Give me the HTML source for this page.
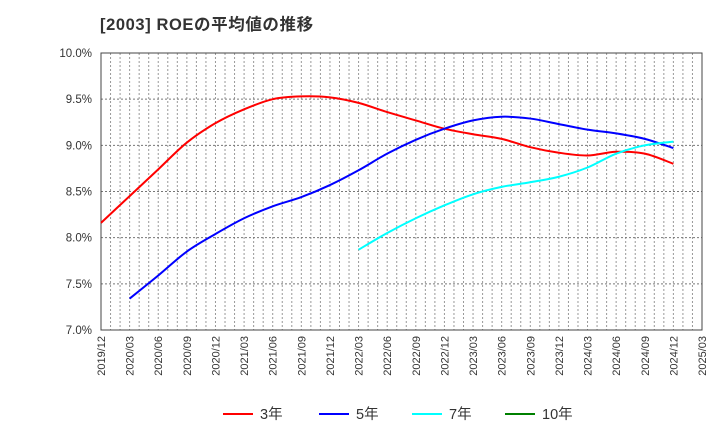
<!DOCTYPE html>
<html><head><meta charset="utf-8"><style>
body{margin:0;background:#fff;font-family:"Liberation Sans","Noto Sans CJK JP",sans-serif;}
svg text{font-family:"Liberation Sans","Noto Sans CJK JP",sans-serif;}
</style></head><body>
<svg id="c" width="720" height="440" xmlns="http://www.w3.org/2000/svg">
<text x="100" y="30" font-size="16.5" font-weight="bold" fill="#333" letter-spacing="0.6">[2003]  ROEの平均値の推移</text>
<g id="grid"></g><g id="axes"></g><g id="series"></g><g id="legend"></g>
</svg>
<script>
const xLabels=["2019/12","2020/03","2020/06","2020/09","2020/12","2021/03","2021/06","2021/09","2021/12","2022/03","2022/06","2022/09","2022/12","2023/03","2023/06","2023/09","2023/12","2024/03","2024/06","2024/09","2024/12","2025/03"];
const yTicks=[7.0,7.5,8.0,8.5,9.0,9.5,10.0];
const red=[8.16,8.45,8.74,9.03,9.24,9.39,9.50,9.53,9.52,9.46,9.36,9.27,9.18,9.12,9.07,8.98,8.92,8.89,8.93,8.91,8.80];
const blue=[null,7.34,7.59,7.85,8.04,8.21,8.34,8.44,8.57,8.73,8.91,9.06,9.18,9.27,9.31,9.29,9.23,9.17,9.13,9.07,8.97];
const cyan=[null,null,null,null,null,null,null,null,null,7.87,8.05,8.21,8.35,8.47,8.55,8.60,8.66,8.76,8.91,9.00,9.04];
const seriesNames=["3年","5年","7年","10年"];
const seriesColors=["#ff0000","#0000ff","#00ffff","#008000"];
const L=101,R=702,T=53,B=330,NS="http://www.w3.org/2000/svg";
const X=i=>L+(R-L)*i/(xLabels.length-1);
const Y=v=>B-(v-7)/3*(B-T);
function mk(t,a,p){const e=document.createElementNS(NS,t);for(const k in a)e.setAttribute(k,a[k]);p.appendChild(e);return e;}
const g=document.getElementById('grid');
for(let m=1;m<(xLabels.length-1)*3;m++){const x=L+(R-L)*m/((xLabels.length-1)*3);
const l=mk('line',{x1:x,x2:x,y1:T,y2:B,stroke:'#999','stroke-dasharray':'2,2','stroke-width':1},g);

}
yTicks.forEach(v=>{const l=mk('line',{x1:L,x2:R,y1:Y(v),y2:Y(v),stroke:'#777','stroke-dasharray':'2,2','stroke-width':1},g);


const t=mk('text',{x:L-9,y:Y(v)+4,'text-anchor':'end','font-size':11.5,fill:'#333'},document.getElementById('axes'));t.textContent=v.toFixed(1)+'%';

});
const ax=document.getElementById('axes');
const fr=mk('rect',{x:L,y:T,width:R-L,height:B-T,fill:'none',stroke:'#444','stroke-width':1},ax);


xLabels.forEach((s,i)=>{const t=mk('text',{transform:`translate(${X(i)+4},${B+6}) rotate(-90)`,'text-anchor':'end','font-size':11,fill:'#333'},ax);t.textContent=s;

});
function path(arr){const p=[];arr.forEach((v,i)=>{if(v!=null)p.push([X(i),Y(v)]);});
let d=`M${p[0][0]},${p[0][1]}`;for(let i=0;i<p.length-1;i++){const p0=p[i-1]||p[i],p1=p[i],p2=p[i+1],p3=p[i+2]||p2;
d+=` C${p1[0]+(p2[0]-p0[0])/6},${p1[1]+(p2[1]-p0[1])/6} ${p2[0]-(p3[0]-p1[0])/6},${p2[1]-(p3[1]-p1[1])/6} ${p2[0]},${p2[1]}`;}return d;}
const sg=document.getElementById('series');
[[red,'series-3yr',0],[blue,'series-5yr',1],[cyan,'series-7yr',2]].forEach(([a,n,c])=>{const e=mk('path',{d:path(a),fill:'none',stroke:seriesColors[c],'stroke-width':2},sg);

});
const lg=document.getElementById('legend');const lx=[223,319,412,505];
seriesNames.forEach((s,i)=>{const e=mk('line',{x1:lx[i],x2:lx[i]+30,y1:414,y2:414,stroke:seriesColors[i],'stroke-width':2},lg);


const t=mk('text',{x:lx[i]+37,y:419,'font-size':14.5,fill:'#333'},lg);t.textContent=s;

});
</script>
</body></html>
